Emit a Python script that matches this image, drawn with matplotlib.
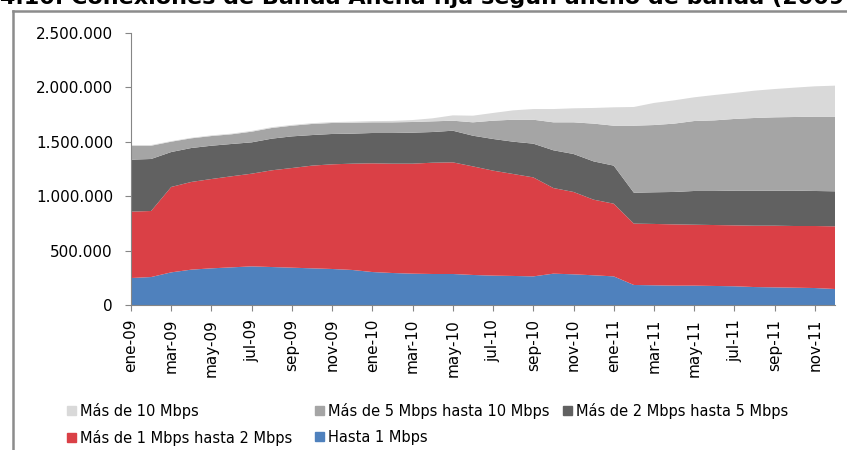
import matplotlib.pyplot as plt
from matplotlib.lines import Line2D
from matplotlib.patches import Patch
from matplotlib.ticker import FuncFormatter

# months (ene-09 .. dic-11)
meses = ['ene', 'feb', 'mar', 'abr', 'may', 'jun', 'jul', 'ago', 'sep', 'oct', 'nov', 'dic']
fechas = [f'{m}-{a}' for a in ('09', '10', '11') for m in meses]

# connections per bandwidth band (thousands)
hasta_1 = [248, 257, 300, 325, 337, 346, 355, 349, 343, 337, 331, 322,
           303, 294, 288, 285, 285, 276, 270, 267, 263, 288, 282, 273,
           263, 184, 181, 178, 178, 175, 172, 165, 162, 159, 156, 147]
de_1_a_2 = [610, 607, 785, 806, 821, 837, 852, 889, 916, 944, 962, 977,
            999, 1005, 1011, 1023, 1026, 998, 965, 937, 910, 787, 757, 695,
            668, 564, 564, 563, 560, 560, 560, 564, 567, 567, 570, 576]
de_2_a_5 = [478, 478, 321, 312, 306, 297, 288, 291, 291, 281, 279, 276,
            279, 282, 285, 282, 291, 282, 291, 297, 310, 347, 349, 352,
            350, 284, 291, 298, 310, 313, 319, 322, 322, 325, 322, 322]
de_5_a_10 = [128, 122, 95, 89, 89, 89, 98, 98, 98, 102, 101, 101,
             98, 98, 98, 98, 92, 123, 168, 202, 220, 257, 291, 347,
             367, 616, 618, 628, 643, 649, 659, 668, 674, 677, 683, 686]
mas_10 = [6, 6, 5, 5, 6, 6, 7, 7, 7, 7, 8, 9,
          11, 13, 18, 28, 49, 61, 71, 86, 98, 122, 129, 144,
          169, 172, 203, 214, 218, 233, 239, 251, 260, 270, 279, 285]

series = [hasta_1, de_1_a_2, de_2_a_5, de_5_a_10, mas_10]
nombres = ['Hasta 1 Mbps', 'Más de 1 Mbps hasta 2 Mbps', 'Más de 2 Mbps hasta 5 Mbps',
           'Más de 5 Mbps hasta 10 Mbps', 'Más de 10 Mbps']
colores = ['#4f81bd', '#da4046', '#616161', '#a5a5a5', '#d9d9d9']

fig = plt.figure(figsize=(8.47, 4.5), dpi=100)
ax = fig.add_axes([131 / 847, 1 - 305 / 450, 704 / 847, 272 / 450])

x = list(range(len(fechas)))
ax.stackplot(x, [[v * 1000 for v in s] for s in series], colors=colores, linewidth=0)

ax.set_xlim(0, len(fechas) - 1)
ax.set_ylim(0, 2500000)
ax.set_yticks(range(0, 2500001, 500000))
ax.yaxis.set_major_formatter(FuncFormatter(lambda v, p: f'{int(v):,}'.replace(',', '.')))
ax.set_xticks(x[::2])
ax.set_xticklabels(fechas[::2], rotation=90)

for s in ('top', 'right'):
    ax.spines[s].set_visible(False)
for s in ('left', 'bottom'):
    ax.spines[s].set_color('#868686')
ax.tick_params(axis='both', colors='#868686', labelcolor='black', labelsize=11, length=4, direction='out')
ax.tick_params(axis='y', pad=9)
ax.tick_params(axis='x', pad=6)

# chart frame (cropped on the right)
fig.add_artist(Line2D([13 / 847, 13 / 847], [0, 1 - 11 / 450], color='#8c8c8c', lw=1.8))
fig.add_artist(Line2D([13 / 847, 1], [1 - 11 / 450, 1 - 11 / 450], color='#8c8c8c', lw=1.8))

# title, mostly cropped off the top as in the original
fig.text(0, 1 - 3.5 / 450, '4.10. Conexiones de Banda Ancha fija según ancho de banda (2009-2011)',
         fontsize=16, fontweight='bold', va='baseline', ha='left')

# legend, three columns like the original
h = {n: Patch(color=c) for n, c in zip(nombres, colores)}
cols = [(67, ['Más de 10 Mbps', 'Más de 1 Mbps hasta 2 Mbps']),
        (315, ['Más de 5 Mbps hasta 10 Mbps', 'Hasta 1 Mbps']),
        (563, ['Más de 2 Mbps hasta 5 Mbps'])]
for px, labs in cols:
    fig.legend([h[l] for l in labs], labs, loc='upper left', bbox_to_anchor=(px / 847, 1 - 403 / 450),
               frameon=False, fontsize=10.5, handlelength=0.6, handleheight=0.6, handletextpad=0.3,
               labelspacing=0.75, borderpad=0, borderaxespad=0)

fig.savefig('out.png', dpi=100)
